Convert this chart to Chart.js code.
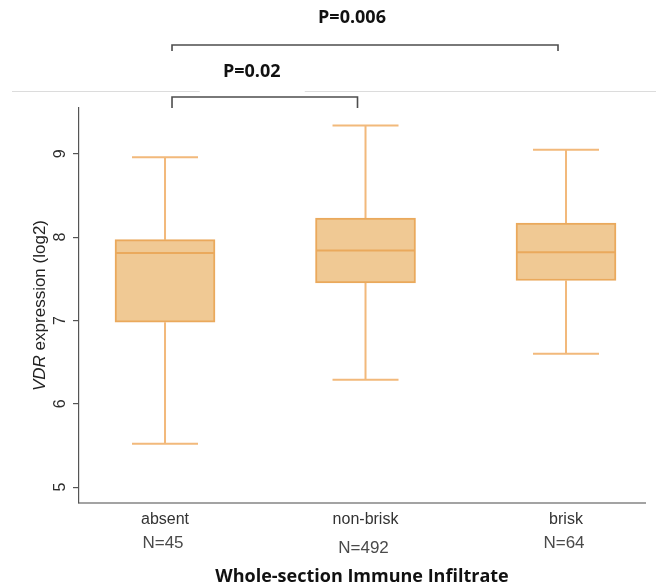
<!DOCTYPE html>
<html>
<head>
<meta charset="utf-8">
<script src="https://cdn.jsdelivr.net/npm/chart.js@4.4.1/dist/chart.umd.min.js"></script>
<style>
  html, body { margin: 0; padding: 0; background: #ffffff; }
  #wrap { width: 656px; height: 586px; }
</style>
</head>
<body>
<div id="wrap"><canvas id="c" width="656" height="586"></canvas></div>
<script>
// VDR expression (log2) by whole-section immune infiltrate group
const categories  = ['absent', 'non-brisk', 'brisk'];
const sampleSizes = [45, 492, 64];
const whiskerLow  = [5.52, 6.29, 6.60];
const quartile1   = [6.98, 7.45, 7.48];
const medians     = [7.81, 7.84, 7.82];
const quartile3   = [7.97, 8.23, 8.17];
const whiskerHigh = [8.96, 9.34, 9.05];
const yTicks      = [5, 6, 7, 8, 9];
const comparisons = [
  { from: 0, to: 1, label: 'P=0.02' },
  { from: 0, to: 2, label: 'P=0.006' }
];

const BOX_FILL   = '#f0c994';
const BOX_EDGE   = '#eaa95c';
const WHISKER    = '#f2b97b';
const AXIS_DARK  = '#555555';

// Whiskers, medians, rotated y labels, N counts and significance brackets
const boxExtras = {
  id: 'boxExtras',
  beforeDatasetsDraw(chart) {
    const { ctx, scales: { x, y } } = chart;
    const capHalf = 33;
    ctx.save();
    ctx.strokeStyle = WHISKER;
    ctx.lineWidth = 2;
    categories.forEach((_, i) => {
      const px = x.getPixelForValue(i);
      const yHi = y.getPixelForValue(whiskerHigh[i]);
      const yLo = y.getPixelForValue(whiskerLow[i]);
      const yQ3 = y.getPixelForValue(quartile3[i]);
      const yQ1 = y.getPixelForValue(quartile1[i]);
      ctx.beginPath();
      ctx.moveTo(px, yHi); ctx.lineTo(px, yQ3);
      ctx.moveTo(px, yQ1); ctx.lineTo(px, yLo);
      ctx.moveTo(px - capHalf, yHi); ctx.lineTo(px + capHalf, yHi);
      ctx.moveTo(px - capHalf, yLo); ctx.lineTo(px + capHalf, yLo);
      ctx.stroke();
    });
    ctx.restore();
  },
  afterDatasetsDraw(chart) {
    const { ctx, scales: { x, y } } = chart;
    const half = 50;
    ctx.save();
    ctx.strokeStyle = BOX_EDGE;
    ctx.lineWidth = 2;
    categories.forEach((_, i) => {
      const px = x.getPixelForValue(i);
      const ym = y.getPixelForValue(medians[i]);
      ctx.beginPath();
      ctx.moveTo(px - half + 1, ym); ctx.lineTo(px + half - 1, ym);
      ctx.stroke();
    });
    ctx.restore();
  },
  afterDraw(chart) {
    const { ctx, chartArea, scales: { x, y } } = chart;
    ctx.save();

    // rotated y tick labels
    ctx.fillStyle = '#2e2e2e';
    ctx.font = '16px "Liberation Sans", Arial, sans-serif';
    ctx.textAlign = 'center';
    ctx.textBaseline = 'middle';
    yTicks.forEach(v => {
      const py = y.getPixelForValue(v);
      ctx.save();
      ctx.translate(61, py);
      ctx.rotate(-Math.PI / 2);
      ctx.fillText(String(v), 0, 0);
      ctx.restore();
    });

    // y axis title, gene name in italics
    const midY = (chartArea.top + chartArea.bottom) / 2;
    const italic = 'italic 17px "Liberation Sans", Arial, sans-serif';
    const normal = '17px "Liberation Sans", Arial, sans-serif';
    ctx.font = italic;  const w1 = ctx.measureText('VDR').width;
    ctx.font = normal;  const w2 = ctx.measureText(' expression (log2)').width;
    ctx.save();
    ctx.translate(40, midY);
    ctx.rotate(-Math.PI / 2);
    ctx.textAlign = 'left';
    ctx.fillStyle = '#222222';
    ctx.font = italic;  ctx.fillText('VDR', -(w1 + w2) / 2, 0);
    ctx.font = normal;  ctx.fillText(' expression (log2)', -(w1 + w2) / 2 + w1, 0);
    ctx.restore();

    // sample sizes under category names
    const nDrop = [0, 5, 0];
    ctx.font = '17px "Liberation Sans", Arial, sans-serif';
    ctx.fillStyle = '#4a4a4a';
    ctx.textAlign = 'center';
    sampleSizes.forEach((n, i) => {
      ctx.fillText('N=' + n, x.getPixelForValue(i) - 2, chartArea.bottom + 40 + nDrop[i]);
    });

    // significance brackets
    const top = chartArea.top;
    const levels = [
      { barY: top - 11, drop: 11, textY: top - 36 },
      { barY: top - 63, drop: 6,  textY: top - 90 }
    ];
    const lowLabelX = (x.getPixelForValue(comparisons[0].from) + 7 +
                       x.getPixelForValue(comparisons[0].to) - 8) / 2 - 13;

    // thin rule across the top, broken behind the lower label
    ctx.strokeStyle = '#dcdcdc';
    ctx.lineWidth = 1;
    ctx.beginPath();
    ctx.moveTo(12, top - 16.5); ctx.lineTo(656, top - 16.5);
    ctx.stroke();
    ctx.fillStyle = '#ffffff';
    ctx.fillRect(lowLabelX - 52, top - 22, 105, 12);

    comparisons.forEach((c, k) => {
      const lv = levels[k];
      const x1 = x.getPixelForValue(c.from) + 7;
      const x2 = x.getPixelForValue(c.to) - 8;
      ctx.strokeStyle = '#4d4d4d';
      ctx.lineWidth = 1.6;
      ctx.beginPath();
      ctx.moveTo(x1, lv.barY + lv.drop);
      ctx.lineTo(x1, lv.barY);
      ctx.lineTo(x2, lv.barY);
      ctx.lineTo(x2, lv.barY + lv.drop);
      ctx.stroke();
      ctx.fillStyle = '#111111';
      ctx.font = 'bold 18px "Open Sans", sans-serif';
      ctx.textAlign = 'center';
      ctx.textBaseline = 'middle';
      ctx.fillText(c.label, (x1 + x2) / 2 - 13, lv.textY);
    });

    ctx.restore();
  }
};

const boxes = categories.map((_, i) => ({ x: i, y: [quartile1[i], quartile3[i]] }));

new Chart(document.getElementById('c'), {
  type: 'bar',
  data: {
    datasets: [{
      data: boxes,
      backgroundColor: BOX_FILL,
      borderColor: BOX_EDGE,
      borderWidth: 2,
      borderSkipped: false,
      barThickness: 100
    }]
  },
  options: {
    responsive: false,
    animation: false,
    devicePixelRatio: 1,
    layout: { padding: { top: 108, right: 11, left: 0, bottom: 0 } },
    plugins: { legend: { display: false }, tooltip: { enabled: false } },
    scales: {
      x: {
        type: 'linear',
        min: -0.429,
        max: 2.394,
        offset: false,
        grid: { display: false, drawTicks: false },
        border: { display: true, color: '#a3a3a3', width: 2 },
        afterBuildTicks(scale) { scale.ticks = categories.map((_, i) => ({ value: i })); },
        afterFit(scale) { scale.height = 83; },
        ticks: {
          autoSkip: false,
          padding: 7,
          color: '#333333',
          font: { family: '"Liberation Sans", Arial, sans-serif', size: 16 },
          callback: (v) => categories[v]
        },
        title: {
          display: true,
          text: 'Whole-section Immune Infiltrate',
          color: '#111111',
          padding: { top: 0, bottom: 0 },
          font: { family: '"Open Sans", sans-serif', size: 18, weight: 'bold', lineHeight: 1 }
        }
      },
      y: {
        min: 4.81,
        max: 9.55,
        afterBuildTicks(scale) { scale.ticks = yTicks.map(v => ({ value: v })); },
        afterFit(scale) { scale.width = 79; },
        grid: { drawOnChartArea: false, drawTicks: true, tickLength: 6, color: AXIS_DARK, lineWidth: 1.2 },
        border: { display: true, color: AXIS_DARK, width: 1.2 },
        ticks: { display: false }
      }
    }
  },
  plugins: [boxExtras]
});
</script>
</body>
</html>
